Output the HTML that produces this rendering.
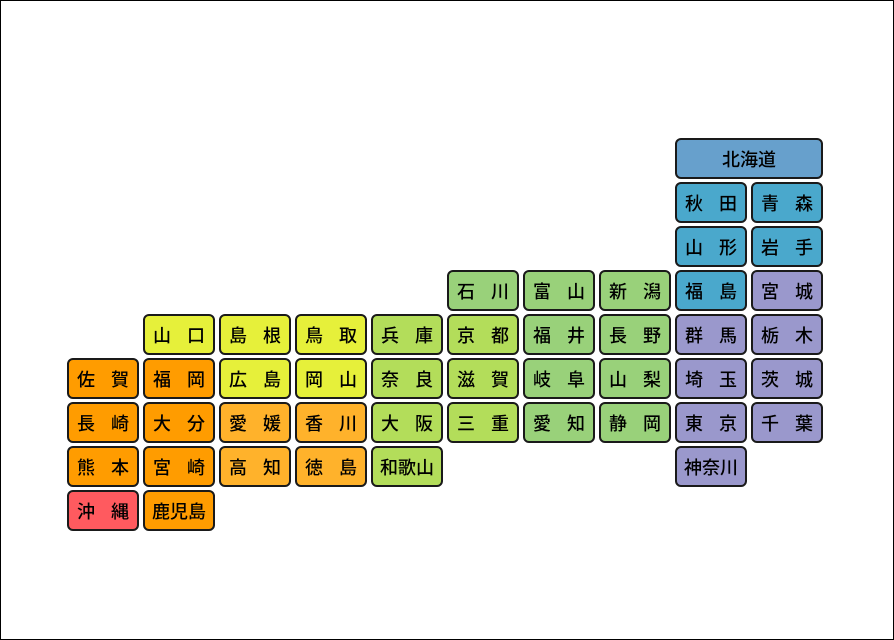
<!DOCTYPE html>
<html><head><meta charset="utf-8"><style>
html,body{margin:0;padding:0}
body{width:894px;height:640px;position:relative;overflow:hidden;background:#fff;font-family:"Liberation Sans","Noto Sans CJK JP",sans-serif}
#frame{position:absolute;left:0;top:0;width:892px;height:638px;border:1px solid #000}
.c{position:absolute;box-sizing:border-box;height:41px;border:2px solid #1a1a1a;border-radius:6px;font-size:18px;font-weight:500;color:#000;display:flex;align-items:center;justify-content:space-between;padding:0 8px}
.c.t{justify-content:center;padding:0}
</style></head><body><div id="frame"></div>
<script>
const H='#67a0cc',T='#4aa8cc',K='#9a98cc',C='#99d17a',N='#b3dd5a',G='#e6f03a',S='#ffb22b',Q='#ff9c00',O='#ff5a5f';
const d=[
[0,8,'北海道',H,2],
[1,8,'秋田',T],[1,9,'青森',T],
[2,8,'山形',T],[2,9,'岩手',T],
[3,5,'石川',C],[3,6,'富山',C],[3,7,'新潟',C],[3,8,'福島',T],[3,9,'宮城',K],
[4,1,'山口',G],[4,2,'島根',G],[4,3,'鳥取',G],[4,4,'兵庫',N],[4,5,'京都',N],[4,6,'福井',C],[4,7,'長野',C],[4,8,'群馬',K],[4,9,'栃木',K],
[5,0,'佐賀',Q],[5,1,'福岡',Q],[5,2,'広島',G],[5,3,'岡山',G],[5,4,'奈良',N],[5,5,'滋賀',N],[5,6,'岐阜',C],[5,7,'山梨',C],[5,8,'埼玉',K],[5,9,'茨城',K],
[6,0,'長崎',Q],[6,1,'大分',Q],[6,2,'愛媛',S],[6,3,'香川',S],[6,4,'大阪',N],[6,5,'三重',N],[6,6,'愛知',C],[6,7,'静岡',C],[6,8,'東京',K],[6,9,'千葉',K],
[7,0,'熊本',Q],[7,1,'宮崎',Q],[7,2,'高知',S],[7,3,'徳島',S],[7,4,'和歌山',N],[7,8,'神奈川',K],
[8,0,'沖縄',O],[8,1,'鹿児島',Q]];
let h='';
for(const [r,c,t,col,w] of d){
 const ww=w?148:72;
 const inner=t.length==2?'<span>'+t[0]+'</span><span>'+t[1]+'</span>':t;
 h+=`<div class="c${t.length==2?'':' t'}" style="left:${67+76*c}px;top:${138+44*r}px;width:${ww}px;background:${col}">${inner}</div>`;
}
document.body.insertAdjacentHTML('beforeend',h);
</script>
</body></html>
